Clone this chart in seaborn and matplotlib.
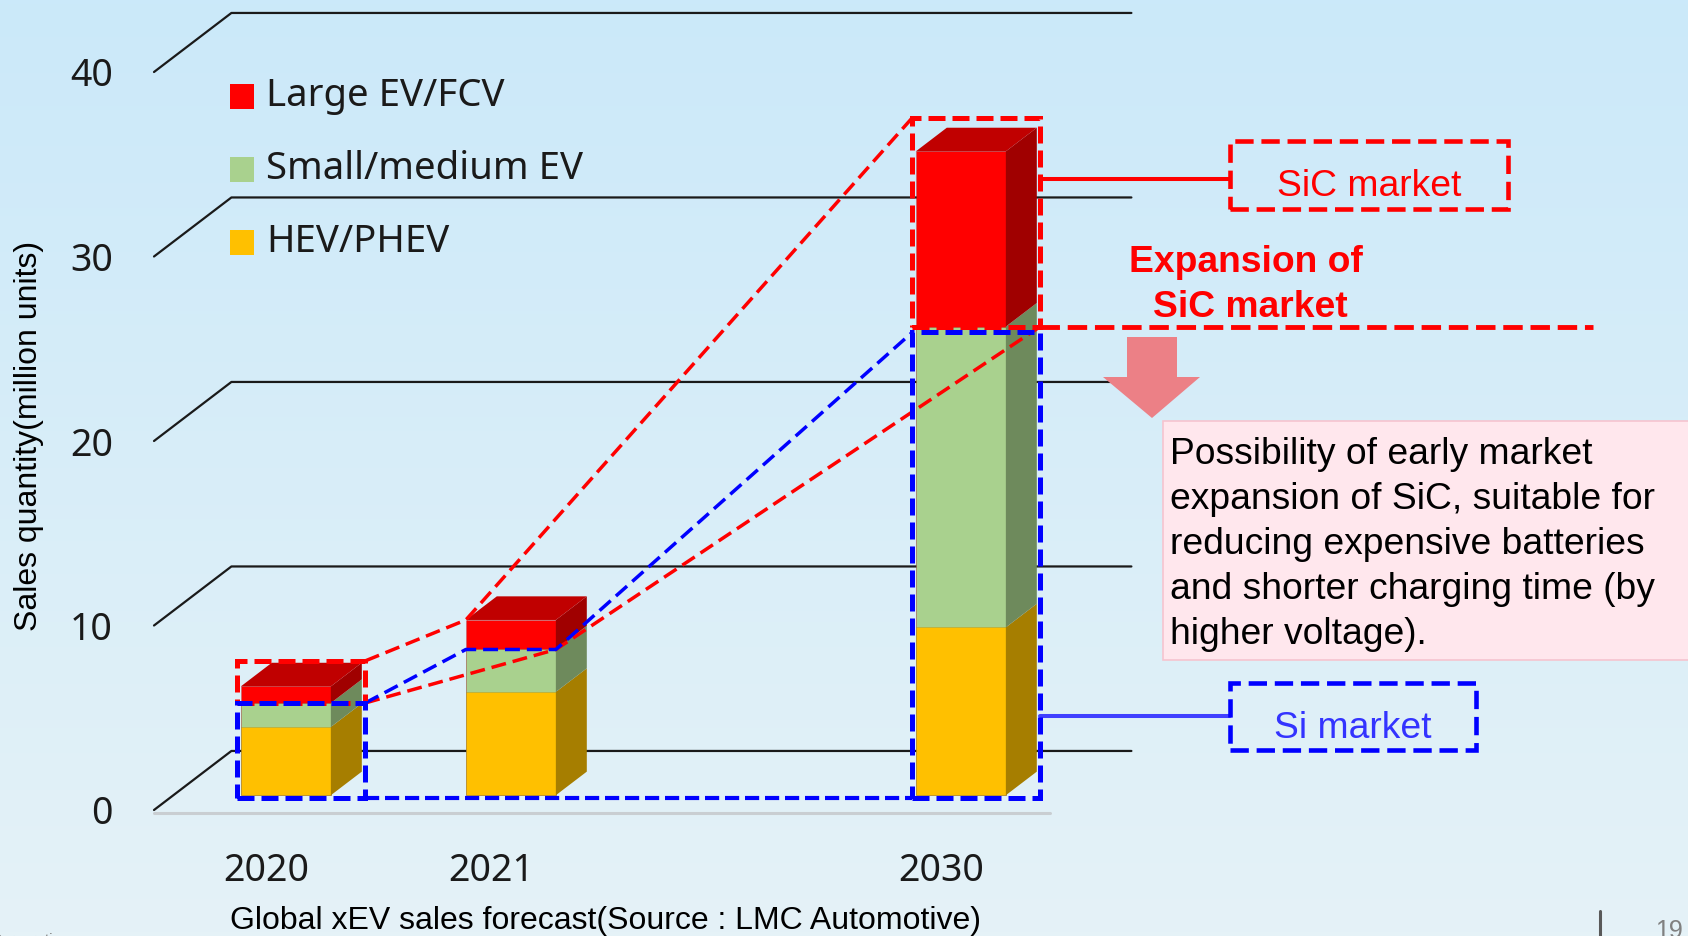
import matplotlib
matplotlib.use("Agg")
import matplotlib.pyplot as plt
import matplotlib.transforms as mtransforms
from matplotlib.patches import Polygon, Rectangle
import numpy as np
import pandas as pd
import seaborn as sns

# ---- data (million units) ----
years = ["2020", "2021", "2030"]
slots = [0, 1, 3]
hev_phev = [3.7, 5.6, 9.1]
small_medium_ev = [1.3, 2.3, 16.3]
large_ev_fcv = [0.9, 1.6, 9.5]
series_names = ["Large EV/FCV", "Small/medium EV", "HEV/PHEV"]
y_ticks = [0, 10, 20, 30, 40]

RED, GREEN, ORANGE = "#FF0000", "#A9D18E", "#FFC000"
SIDE = {RED: "#A00000", GREEN: "#6E8A5C", ORANGE: "#A67E00"}
TOP_RED = "#C00000"
BLUE = "#0000FF"

# 3D-look geometry (oblique depth in data units)
DX, DY = 0.344, 3.2
D0, D1 = 0.25, 0.65
W = 0.4

W_PX, H_PX = 1688, 936


def at(px, py):
    # layout helper: reference pixel -> data coords
    return (px - 266.5) / 225, (810 - py) / 18.45


sns.set_theme(style="white")
plt.rcParams["font.family"] = ["Liberation Sans", "DejaVu Sans"]
TICK_FONT = ["Noto Sans", "DejaVu Sans"]

fig = plt.figure(figsize=(W_PX / 100, H_PX / 100), dpi=100)

# background gradient
bg = fig.add_axes([0, 0, 1, 1], zorder=0)
grad = np.linspace(0, 1, 256)[:, None]
top_c = np.array([203, 233, 250]) / 255
bot_c = np.array([229, 242, 247]) / 255
img = top_c[None, None, :] * (1 - grad[..., None]) + bot_c[None, None, :] * grad[..., None]
img = np.repeat(img, 4, axis=1)
bg.imshow(img, aspect="auto", extent=[0, 1, 0, 1])
bg.axis("off")

ax = fig.add_axes([154 / W_PX, (H_PX - 810) / H_PX, (W_PX - 154) / W_PX, 810 / H_PX], zorder=1)
ax.set_facecolor("none")
x_left, x_right = -0.5, (W_PX - 266.5) / 225
y_top = 810 / 18.45

df = pd.DataFrame({"slot": slots, "hev": hev_phev, "small": small_medium_ev, "large": large_ev_fcv})
df["mid"] = df["hev"] + df["small"]
df["total"] = df["mid"] + df["large"]

# back wall gridlines
for v in y_ticks:
    ax.plot([x_left, x_left + DX, 3.5 + DX], [v, v + DY, v + DY], color="#1a1a1a", lw=1.6, zorder=1,
            clip_on=False)
ax.plot([x_left, 3.48], [-0.15, -0.15], color="#C9CED2", lw=2.2, zorder=1, clip_on=False)

# front faces with seaborn, shifted to the bar depth
front = mtransforms.Affine2D().translate(D0 * DX, D0 * DY) + ax.transData
for col, color in [("total", RED), ("mid", GREEN), ("hev", ORANGE)]:
    n0 = len(ax.patches)
    sns.barplot(data=df, x="slot", y=col, native_scale=True, width=W, color=color, saturation=1,
                errorbar=None, edgecolor=(0, 0, 0, 0.12), linewidth=0.6, ax=ax, zorder=3)
    for p in ax.patches[n0:]:
        p.set_transform(front)
        p.set_clip_on(False)

# side and top faces
ddx, ddy = (D1 - D0) * DX, (D1 - D0) * DY
for _, r in df.iterrows():
    xr = r.slot + W / 2 + D0 * DX
    xl = r.slot - W / 2 + D0 * DX
    segs = [(0, r.hev, ORANGE), (r.hev, r.mid, GREEN), (r.mid, r.total, RED)]
    for b, t, c in segs:
        b, t = b + D0 * DY, t + D0 * DY
        ax.add_patch(Polygon([(xr, b), (xr + ddx, b + ddy), (xr + ddx, t + ddy), (xr, t)],
                             closed=True, facecolor=SIDE[c], edgecolor="none", zorder=3, clip_on=False))
    t = r.total + D0 * DY
    ax.add_patch(Polygon([(xl, t), (xr, t), (xr + ddx, t + ddy), (xl + ddx, t + ddy)],
                         closed=True, facecolor=TOP_RED, edgecolor="none", zorder=3, clip_on=False))


# dashed boxes around Si / SiC parts
def boxes(i, pad_top=0.3, gap=0.0):
    r = df.iloc[i]
    left = r.slot - W / 2 + D0 * DX - 0.015
    right = r.slot + W / 2 + D1 * DX + 0.015
    split = r.mid + D0 * DY
    return dict(left=left, right=right, bottom=D0 * DY - 0.15, split=split,
                blue_top=split - gap, red_top=r.total + D1 * DY + pad_top)


b20, b30 = boxes(0, 0.1), boxes(2, 0.55, 0.3)
dash_box = (0, (3.4, 1.4))
for b in (b20, b30):
    ax.add_patch(Rectangle((b["left"], b["split"]), b["right"] - b["left"], b["red_top"] - b["split"],
                           fill=False, ec=RED, lw=3.6, ls=dash_box, zorder=6, clip_on=False))
    ax.add_patch(Rectangle((b["left"], b["bottom"]), b["right"] - b["left"], b["blue_top"] - b["bottom"],
                           fill=False, ec=BLUE, lw=3.6, ls=dash_box, zorder=7, clip_on=False))

r21 = df.iloc[1]
c21_l = r21.slot - W / 2 + D0 * DX
c21_r = r21.slot + W / 2 + D0 * DX
dash_ln = (0, (4.3, 2.0))
ax.plot([b20["right"], c21_l, b30["left"]], [b20["red_top"], r21.total + D0 * DY, b30["red_top"]],
        color=RED, lw=2.5, ls=dash_ln, zorder=5, clip_on=False)
ax.plot([b20["right"], c21_r, b30["right"]], [b20["split"], r21.mid + D0 * DY, b30["split"]],
        color=RED, lw=2.5, ls=dash_ln, zorder=5, clip_on=False)
ax.plot([b20["right"], c21_l, c21_r, b30["left"]],
        [b20["blue_top"], r21.mid + D0 * DY, r21.mid + D0 * DY, b30["blue_top"]],
        color=BLUE, lw=2.5, ls=dash_ln, zorder=5, clip_on=False)
ax.plot([b20["right"], b30["left"]], [b20["bottom"], b30["bottom"]],
        color=BLUE, lw=3.0, ls=dash_box, zorder=5, clip_on=False)
ax.plot([b30["right"], at(1593, 0)[0]], [b30["split"], b30["split"]],
        color=RED, lw=3.5, ls=(0, (4, 1.6)), zorder=5, clip_on=False)

# callouts
x_box = at(1230, 0)[0]
ax.plot([b30["right"], x_box], [at(0, 179)[1]] * 2, color=RED, lw=2.9, zorder=5, clip_on=False)
ax.plot([b30["right"], x_box], [at(0, 716)[1]] * 2, color="#4040FF", lw=2.9, zorder=5, clip_on=False)

(sx0, sy0), (sx1, sy1) = at(1230, 209), at(1508, 141)
ax.add_patch(Rectangle((sx0, sy0), sx1 - sx0, sy1 - sy0, fill=False, ec=RED, lw=3.3,
                       ls=(0, (4, 1.7)), zorder=6, clip_on=False))
ax.text(*at(1369, 186), "SiC market", color=RED, fontsize=26.8, ha="center", va="center", zorder=7)

(ix0, iy0), (ix1, iy1) = at(1230, 750), at(1476, 683)
ax.add_patch(Rectangle((ix0, iy0), ix1 - ix0, iy1 - iy0, fill=False, ec=BLUE, lw=3.3,
                       ls=(0, (4, 1.7)), zorder=6, clip_on=False))
ax.text(*at(1353, 728), "Si market", color="#3333FF", fontsize=26.8, ha="center", va="center", zorder=7)

ax.text(*at(1246, 262.5), "Expansion of", color=RED, fontsize=26.8, fontweight="bold",
        ha="center", va="center", zorder=7)
ax.text(*at(1250, 307.5), "SiC market", color=RED, fontsize=26.8, fontweight="bold",
        ha="center", va="center", zorder=7)

arrow = [at(1127, 337), at(1177, 337), at(1177, 377), at(1200, 377), at(1152, 418),
         at(1103, 377), at(1127, 377)]
ax.add_patch(Polygon(arrow, closed=True, facecolor="#EC8086", edgecolor="none", zorder=6, clip_on=False))

(tx0, ty0), (tx1, ty1) = at(1163, 660), at(1700, 421)
ax.add_patch(Rectangle((tx0, ty0), tx1 - tx0, ty1 - ty0, facecolor="#FFE7ED", edgecolor="#F6C4CF",
                       lw=1.2, zorder=6, clip_on=False))
note = ["Possibility of early market", "expansion of SiC, suitable for",
        "reducing expensive batteries", "and shorter charging time (by", "higher voltage)."]
for k, line in enumerate(note):
    ax.text(*at(1170, 454.5 + 45 * k), line, fontsize=26.8, color="black", ha="left", va="center", zorder=7)

# legend
for k, (name, color) in enumerate(zip(series_names, [RED, GREEN, ORANGE])):
    cy = 96.5 + 73 * k
    (lx0, ly0), (lx1, ly1) = at(230, cy + 12.5), at(254, cy - 12.5)
    ax.add_patch(Rectangle((lx0, ly0), lx1 - lx0, ly1 - ly0, facecolor=color, edgecolor="none",
                           zorder=6, clip_on=False))
    ax.text(*at(266, cy - 0.5), name, fontsize=27.6, family=TICK_FONT, color="#1a1a1a",
            ha="left", va="center", zorder=7)

# axes
ax.set_xlim(x_left, x_right)
ax.set_ylim(0, y_top)
ax.set_xticks(slots, years)
ax.set_yticks(y_ticks, [str(v) for v in y_ticks])
for lab in ax.get_xticklabels() + ax.get_yticklabels():
    lab.set_fontfamily(TICK_FONT)
    lab.set_fontsize(27)
    lab.set_color("#1a1a1a")
ax.tick_params(axis="y", length=0, pad=29.5)
ax.tick_params(axis="x", length=0, pad=30.5)
for s in ax.spines.values():
    s.set_visible(False)
ax.grid(False)

ax.set_ylabel("Sales quantity(million units)", fontsize=23, color="black", va="center")
ax.yaxis.set_label_coords((29 - 154) / 1534, (810 - 436) / 810)
ax.set_xlabel("Global xEV sales forecast(Source : LMC Automotive)", fontsize=23, color="black",
              va="center")
ax.xaxis.set_label_coords((606 - 154) / 1534, (810 - 921) / 810)

# slide footer
fig.text(70 / W_PX, -8 / H_PX, "Corporation", fontsize=11, color="#808080", ha="right", va="baseline")
fig.text(1655 / W_PX, -2 / H_PX, "19", fontsize=18, color="#808080", ha="left", va="baseline")
fig.add_artist(plt.Line2D([1600 / W_PX] * 2, [0, 25 / H_PX], color="#595959", lw=2.2))

fig.savefig("out.png", dpi=100)
